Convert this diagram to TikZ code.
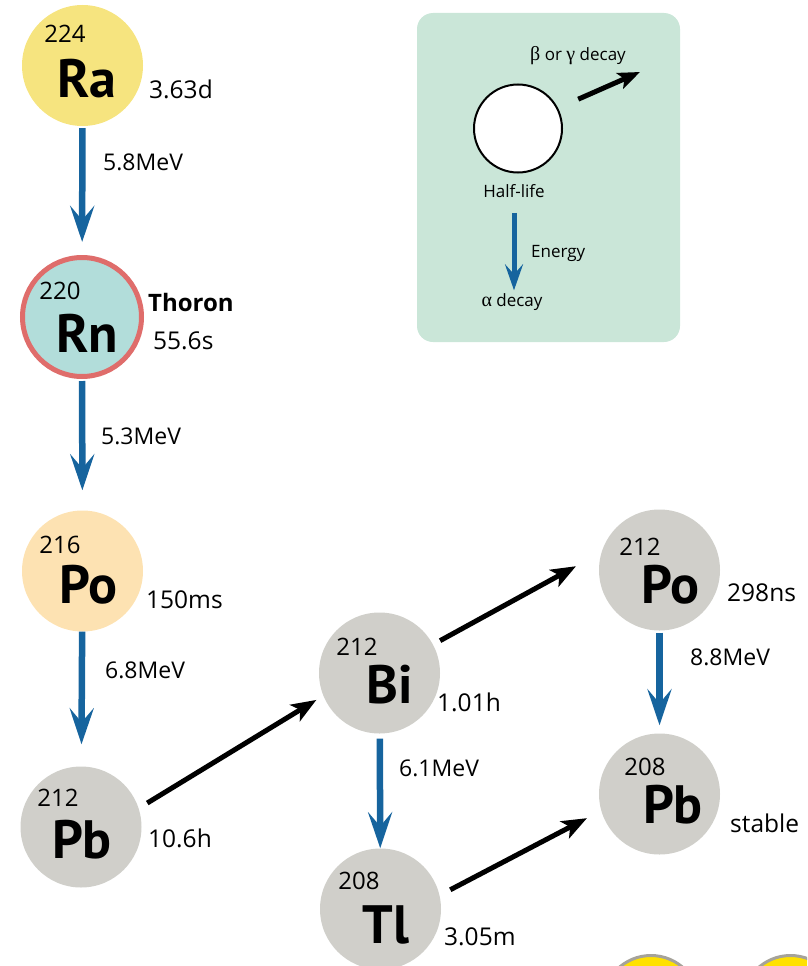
\documentclass[tikz,border=0pt]{standalone}
\usepackage{fontspec}
\setmainfont{Open Sans}
\newfontfamily\elemfont{PT Sans}
\newfontfamily\greekfont{Liberation Serif}
\usetikzlibrary{arrows.meta, positioning}
\definecolor{cra}{HTML}{F6E47F}
\definecolor{crn}{HTML}{B2DDDA}
\definecolor{crnedge}{HTML}{DF6D6B}
\definecolor{cpo}{HTML}{FDE2B2}
\definecolor{cgrey}{HTML}{D0CFCA}
\definecolor{clegend}{HTML}{CAE6D8}
\definecolor{cblue}{HTML}{16649E}
\definecolor{cnext}{HTML}{FFE100}
\definecolor{cnextedge}{HTML}{A6A39A}

\begin{document}
\begin{tikzpicture}[
  x=1pt, y=-1pt,
  nuc/.style={circle, minimum size=121pt, inner sep=0pt, fill=cgrey},
  mass/.style={font=\fontsize{24}{28}\selectfont, inner sep=0pt},
  elem/.style={font=\elemfont\bfseries\fontsize{54}{56}\selectfont, inner sep=0pt},
  info/.style={font=\fontsize{23}{27}\selectfont, anchor=west, inner sep=0pt},
  life/.style={info, font=\fontsize{24.5}{28}\selectfont},
  legtxt/.style={font=\fontsize{17}{20}\selectfont, inner sep=0pt},
  alphaarr/.style={draw=cblue, line width=6.5pt,
                   -{Stealth[length=36pt, width=24pt, inset=14pt]}},
  betaarr/.style={draw=black, line width=5pt,
                  -{Stealth[length=25pt, width=19pt, inset=6pt]}},
  legalpha/.style={draw=cblue, line width=5pt,
                   -{Stealth[length=26pt, width=18pt, inset=10pt]}},
  legbeta/.style={draw=black, line width=5pt,
                  -{Stealth[length=22pt, width=17pt, inset=5pt]}}
]
\useasboundingbox (0,0) rectangle (807,966);

% legend
\node[fill=clegend, rounded corners=16pt, minimum width=263pt, minimum height=329pt,
      inner sep=0pt] (legend) at (548.5,177.5) {};
\node[circle, draw=black, line width=2pt, fill=white, minimum size=88pt, inner sep=0pt]
    (key) at (518,128.5) {};
\node[legtxt] (betadecay) at (578,56) {{\greekfont\fontsize{20}{20}\selectfont β} or {\greekfont\fontsize{20}{20}\selectfont γ} decay};
\node[legtxt] (halflife) at (514,191) {Half-life};
\node[legtxt, anchor=west] (energy) at (531,253) {Energy};
\node[legtxt] (alphadecay) at (512,302) {{\greekfont\fontsize{20}{20}\selectfont α} decay};
\coordinate (betatip) at (640,72);
\draw[legbeta, shorten <=22pt] (key.27) -- (betatip);
\draw[legalpha, shorten <=15pt, shorten >=3pt] (halflife.south) -- (halflife.south |- alphadecay.north);

% thorium series
\node[nuc, fill=cra] (ra) at (82.5,65.5) {};
\node[nuc, fill=crn, draw=crnedge, line width=5pt, minimum size=119pt] (rn) at (82,317) {};
\node[nuc, fill=cpo] (po216) at (82.5,571) {};
\node[nuc] (pb212) at (81,827) {};
\node[nuc] (bi212) at (379.5,673) {};
\node[nuc] (tl208) at (380.5,909) {};
\node[nuc] (po212) at (659.5,570) {};
\node[nuc] (pb208) at (659.5,794) {};

\node[mass] at (65,34) {224};   \node[elem] at (87,79) {Ra};
\node[mass] at (60,291) {220};  \node[elem] at (87,333) {Rn};
\node[mass] at (60,545) {216};  \node[elem] at (88,585) {Po};
\node[mass] at (58,798) {212};  \node[elem] at (82,840) {Pb};
\node[mass] at (357,647) {212}; \node[elem] at (390,685) {Bi};
\node[mass] at (359,881) {208}; \node[elem] at (386,925) {Tl};
\node[mass] at (640,547) {212}; \node[elem] at (670,585) {Po};
\node[mass] at (645,767) {208}; \node[elem] at (673,805) {Pb};

\node[life] at (149,89) {3.63d};
\node[info, font=\bfseries\fontsize{24}{28}\selectfont] at (148,302) {Thoron};
\node[life] at (153,341) {55.6s};
\node[life] at (146,600) {150ms};
\node[life] at (148,838) {10.6h};
\node[life] at (437,702) {1.01h};
\node[life] at (444,937) {3.05m};
\node[life] at (727,593) {298ns};
\node[life] at (730,823) {stable};

% alpha decays
\draw[alphaarr, shorten <=2pt, shorten >=13pt] (ra) -- (rn);
\draw[alphaarr, shorten <=2pt, shorten >=20pt] (rn) -- (po216);
\draw[alphaarr, shorten >=22pt] (po216) -- (pb212);
\draw[alphaarr, shorten <=5pt] (bi212) -- (tl208);
\draw[alphaarr, shorten <=2pt, shorten >=8pt] (po212) -- (pb208);
\node[info] at (103,162) {5.8MeV};
\node[info] at (101,436) {5.3MeV};
\node[info] at (105,670) {6.8MeV};
\node[info] at (399,768) {6.1MeV};
\node[info] at (690,657) {8.8MeV};

% beta decays
\draw[betaarr, shorten <=10pt, shorten >=8pt] (pb212.18) -- (bi212.202);
\draw[betaarr, shorten <=8pt, shorten >=29pt] (bi212.28) -- (po212.163);
\draw[betaarr, shorten <=12pt, shorten >=16pt] (tl208.13) -- (pb208.196);

% next part of the chart, cut off
\begin{scope}
  \clip (0,0) rectangle (807,966);
  \draw[cnextedge, fill=cnext, line width=3pt] (651,1004) circle[radius=48.5];
  \draw[cnextedge, fill=cnext, line width=3pt] (790.5,1004) circle[radius=48.5];
\end{scope}
\end{tikzpicture}
\end{document}
